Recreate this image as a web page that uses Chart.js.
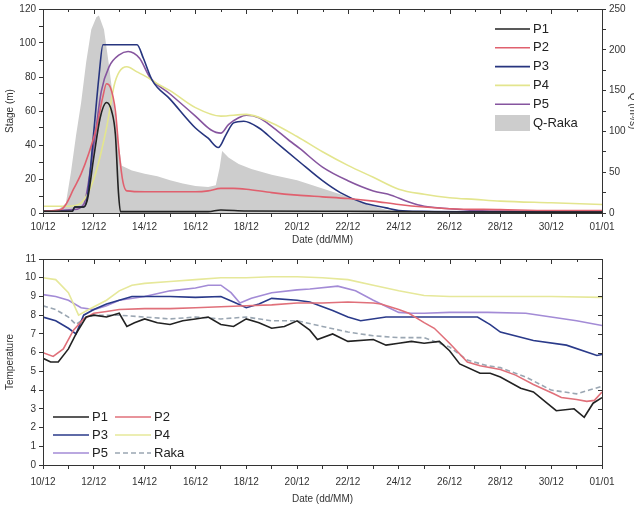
<!DOCTYPE html>
<html>
<head>
<meta charset="utf-8">
<script src="https://cdn.jsdelivr.net/npm/chart.js@4.4.0/dist/chart.umd.min.js"></script>
<style>
html, body { margin: 0; padding: 0; background: #fff; overflow: hidden; width: 634px; height: 507px; }
#stageBox { position: absolute; left: 0; top: 0; width: 643px; height: 250px; }
#tempBox { position: absolute; left: 0; top: 250px; width: 634px; height: 257px; }
</style>
</head>
<body>
<div id="stageBox"><canvas id="stageChart"></canvas></div>
<div id="tempBox"><canvas id="tempChart"></canvas></div>
<script>
// x axis: days after 10/12, labels every 2 days
const dateLabels = ["10/12", "12/12", "14/12", "16/12", "18/12", "20/12", "22/12", "24/12", "26/12", "28/12", "30/12", "01/01"];

// --- top panel: stage (left axis) and discharge (right axis) ---
const p1Days = [0, 1.15, 1.25, 1.6, 1.75, 2.0, 2.25, 2.5, 2.7, 2.85, 2.97, 3.05, 6.5, 7, 8, 12, 16, 22];
const p1Stage = [1, 1, 3.5, 3.5, 8, 33, 56, 65, 60, 46, 12, 0.8, 0.8, 1.8, 1.2, 1, 0.6, 0.5];

const p2Days = [0, 0.7, 0.9, 1.2, 1.5, 1.8, 2.1, 2.35, 2.5, 2.65, 2.85, 3.0, 3.15, 3.3, 4, 5, 6, 6.5, 7, 7.5, 8, 9, 10, 11, 12, 13, 14, 15, 16, 18, 20, 22];
const p2Stage = [1, 2, 5, 14, 23, 35, 50, 68, 76, 74, 60, 35, 18, 13, 12.5, 12.5, 12.5, 13, 14.5, 14.5, 14, 12, 10.5, 9.5, 8.5, 7, 5, 3.5, 2.5, 2, 1.5, 1.5];

const p3Days = [0, 1.15, 1.25, 1.6, 1.75, 2.0, 2.2, 2.36, 3.7, 3.95, 4.3, 5, 6, 6.5, 6.9, 7.2, 7.5, 7.9, 8.5, 9.1, 10.1, 11, 11.7, 12.6, 13.5, 14, 15, 18, 22];
const p3Stage = [1, 1, 3.5, 3.5, 10, 48, 80, 99, 99, 91, 78, 67, 50, 44, 38.5, 46, 53, 54, 50, 42.5, 30, 19, 12, 6, 3, 1.5, 1, 0.7, 0.5];

const p4Days = [0, 1, 1.5, 2, 2.5, 2.8, 3.0, 3.3, 3.7, 4.2, 4.5, 5, 6, 7, 8, 9, 10, 11, 12, 13, 14, 15, 16, 17, 18, 20, 22];
const p4Stage = [4, 4, 6, 20, 50, 75, 83, 86, 83, 79, 76, 72, 62, 57, 58, 53, 45, 36, 28, 21, 14, 11, 9, 8, 7, 6, 5];

const p5Days = [0, 1.2, 1.6, 2.0, 2.3, 2.6, 3.0, 3.35, 3.8, 4.2, 5, 6, 6.6, 7.0, 7.3, 7.7, 8.0, 8.5, 9, 9.7, 10.1, 11, 12, 13, 13.7, 14.4, 15, 16, 17, 19, 22];
const p5Stage = [1, 2, 5, 40, 72, 86, 93, 95, 91, 80, 70, 57, 49, 47, 52, 56, 57.5, 56, 51, 42.5, 38, 27, 19, 13, 10.5, 6.5, 4, 2.5, 1.5, 1, 0.5];

const qDays = [0, 0.6, 0.9, 1.1, 1.3, 1.5, 1.7, 1.9, 2.1, 2.2, 2.4, 2.6, 2.8, 2.95, 3.1, 3.5, 4, 4.5, 5, 5.5, 6, 6.5, 6.8, 6.95, 7.05, 7.3, 7.7, 8.2, 9, 10, 11, 12, 12.8, 13.5, 14, 16, 22];
const qRaka = [3, 4, 12, 50, 95, 135, 185, 225, 240, 242, 225, 180, 130, 90, 58, 52, 48, 45, 40, 36, 33, 32, 34, 55, 76, 68, 60, 54, 47, 40, 30, 20, 10, 4, 2, 1, 0.5];

// --- bottom panel: temperature ---
const t1Days = [0, 0.3, 0.6, 1.0, 1.3, 1.7, 2.0, 2.5, 3.0, 3.3, 3.6, 4.0, 4.5, 5.0, 5.5, 6.0, 6.5, 7.0, 7.5, 8.0, 8.5, 9.0, 9.5, 10.0, 10.5, 10.8, 11.4, 12, 13, 13.5, 14, 14.5, 15, 15.6, 16, 16.4, 17.2, 17.6, 18, 18.8, 19.3, 19.8, 20.2, 20.9, 21.3, 21.65, 22];
const t1Temp = [5.7, 5.5, 5.5, 6.2, 7.0, 7.9, 8.0, 7.9, 8.1, 7.4, 7.6, 7.8, 7.6, 7.5, 7.7, 7.8, 7.9, 7.5, 7.4, 7.8, 7.6, 7.3, 7.4, 7.7, 7.2, 6.7, 7.0, 6.6, 6.7, 6.4, 6.5, 6.6, 6.5, 6.6, 6.1, 5.4, 4.9, 4.9, 4.7, 4.1, 3.9, 3.35, 2.9, 3.0, 2.55, 3.3, 3.6];

const t2Days = [0, 0.4, 0.8, 1.2, 1.6, 2.0, 2.5, 3, 4, 5, 6, 7, 8, 9, 10, 11, 12, 13, 13.3, 14, 14.4, 15, 15.4, 16, 16.7, 17.2, 18, 18.6, 19.3, 20.1, 20.4, 21, 21.4, 21.7, 22];
const t2Temp = [6.0, 5.8, 6.2, 7.2, 7.8, 8.1, 8.2, 8.3, 8.35, 8.35, 8.4, 8.45, 8.5, 8.55, 8.65, 8.65, 8.7, 8.65, 8.6, 8.3, 8.1, 7.6, 7.3, 6.5, 5.5, 5.3, 5.1, 4.8, 4.3, 3.8, 3.6, 3.5, 3.4, 3.45, 3.9];

const t3Days = [0, 0.5, 1.0, 1.3, 1.6, 2.0, 2.5, 3.0, 3.5, 4, 5, 6, 7, 7.5, 8.0, 8.5, 9, 10, 10.5, 11.4, 12, 12.5, 13.5, 15.4, 17.1, 17.6, 18, 19.3, 20.6, 21.8, 22];
const t3Temp = [7.9, 7.7, 7.3, 7.0, 8.0, 8.3, 8.6, 8.8, 9.0, 9.0, 9.0, 8.95, 9.0, 8.7, 8.4, 8.6, 8.9, 8.8, 8.7, 8.25, 7.9, 7.7, 7.9, 7.9, 7.9, 7.5, 7.1, 6.65, 6.4, 5.85, 5.9];

const t4Days = [0, 0.5, 1.0, 1.4, 1.8, 2.5, 3, 3.5, 4, 5, 6, 7, 8, 9, 10, 11, 12, 13, 14, 15, 16, 18, 20, 22];
const t4Temp = [10, 9.9, 9.2, 8.0, 8.3, 8.8, 9.3, 9.6, 9.7, 9.8, 9.9, 10.0, 10.0, 10.05, 10.05, 10.0, 9.9, 9.6, 9.3, 9.05, 9.0, 9.0, 9.0, 8.95];

const t5Days = [0, 0.5, 1.0, 1.5, 2.0, 2.5, 3, 4, 5, 6, 6.5, 7.0, 7.4, 7.75, 8.2, 9, 10, 10.5, 11.6, 12.3, 13, 14, 14.5, 15, 16, 17.5, 19, 20, 21, 22];
const t5Temp = [9.1, 9.0, 8.8, 8.4, 8.3, 8.5, 8.8, 9.0, 9.3, 9.45, 9.6, 9.6, 9.2, 8.65, 8.9, 9.2, 9.35, 9.4, 9.55, 9.3, 8.8, 8.15, 8.1, 8.1, 8.15, 8.15, 8.1, 7.9, 7.7, 7.45];

const rakaDays = [0, 0.5, 1.0, 1.3, 1.7, 2.0, 3, 4, 5, 6, 7, 8, 9, 10, 11, 12, 13, 14, 15, 16, 16.7, 17.5, 18, 19, 20, 20.5, 21, 21.5, 22];
const rakaTemp = [8.5, 8.3, 7.9, 7.5, 7.9, 8.0, 8.0, 7.9, 7.8, 7.9, 7.8, 7.9, 7.7, 7.7, 7.4, 7.1, 6.9, 6.8, 6.8, 6.3, 5.6, 5.3, 5.2, 4.7, 4.0, 3.9, 3.8, 4.0, 4.2];

const FONT = '"Liberation Sans", Arial, sans-serif';
const INK = "#333";

function pts(days, vals) {
	return days.map((d, i) => ({ x: d, y: vals[i] }));
}

function line(label, days, vals, color, extra) {
	return Object.assign({
		label: label,
		data: pts(days, vals),
		borderColor: color,
		backgroundColor: color,
		borderWidth: 1.6,
		pointRadius: 0,
		fill: false,
	}, extra || {});
}

// box round the plot with mirrored ticks on top (and right)
const framePlugin = {
	id: "frame",
	afterDatasetsDraw(chart, args, opts) {
		const { ctx, chartArea: a, scales } = chart;
		ctx.save();
		ctx.strokeStyle = INK;
		ctx.lineWidth = 1;
		ctx.strokeRect(a.left + 0.5, a.top + 0.5, a.right - a.left, a.bottom - a.top);
		scales.x.ticks.forEach((t) => {
			const px = Math.round(scales.x.getPixelForValue(t.value)) + 0.5;
			const len = t.value % 2 === 0 ? 5 : 3;
			ctx.beginPath();
			ctx.moveTo(px, a.top);
			ctx.lineTo(px, a.top + len);
			ctx.stroke();
		});
		if (opts.mirrorY) {
			scales.y.ticks.forEach((t) => {
				const py = Math.round(scales.y.getPixelForValue(t.value)) + 0.5;
				ctx.beginPath();
				ctx.moveTo(a.right, py);
				ctx.lineTo(a.right - 4, py);
				ctx.stroke();
			});
		}
		ctx.restore();
	},
};

// legend drawn inside the plot area
const cornerLegend = {
	id: "cornerLegend",
	afterDraw(chart, args, opts) {
		const { ctx } = chart;
		ctx.save();
		ctx.font = "13px " + FONT;
		ctx.textBaseline = "middle";
		chart.data.datasets.forEach((ds, i) => {
			const col = i % opts.cols;
			const row = Math.floor(i / opts.cols);
			const x0 = opts.x + col * opts.colWidth;
			const y0 = opts.y + row * opts.rowHeight;
			if (ds.fill) {
				ctx.fillStyle = ds.backgroundColor;
				ctx.fillRect(x0, y0 - 8, opts.lineLength, 16);
			} else {
				ctx.strokeStyle = ds.borderColor;
				ctx.lineWidth = 1.6;
				ctx.setLineDash(ds.borderDash || []);
				ctx.beginPath();
				ctx.moveTo(x0, y0);
				ctx.lineTo(x0 + opts.lineLength, y0);
				ctx.stroke();
				ctx.setLineDash([]);
			}
			ctx.fillStyle = "#222";
			ctx.fillText(ds.label, x0 + opts.lineLength + 3, y0);
		});
		ctx.restore();
	},
};

function dateAxis(height, labelPad, titlePad) {
	return {
		type: "linear",
		min: 0,
		max: 22,
		ticks: {
			stepSize: 1,
			autoSkip: false,
			maxRotation: 0,
			padding: labelPad,
			color: INK,
			font: { family: FONT, size: 10 },
			callback: (v) => (v % 2 === 0 ? dateLabels[v / 2] : ""),
		},
		grid: { drawOnChartArea: false, tickLength: 4, color: INK },
		border: { color: INK },
		title: {
			display: true,
			text: "Date (dd/MM)",
			color: INK,
			font: { family: FONT, size: 10 },
			padding: { top: 0, bottom: titlePad },
		},
		afterFit: (s) => {
			s.height = height;
		},
	};
}

function valueAxis(pos, min, max, step, every, title, width) {
	return {
		type: "linear",
		position: pos,
		min: min,
		max: max,
		ticks: {
			stepSize: step,
			autoSkip: false,
			padding: 3,
			color: INK,
			font: { family: FONT, size: 10 },
			callback: (v) => (Math.round(v / step) % every === 0 ? v : ""),
		},
		grid: { drawOnChartArea: false, tickLength: 4, color: INK },
		border: { color: INK },
		title: {
			display: true,
			text: title,
			color: INK,
			font: { family: FONT, size: 10 },
			padding: { top: 4, bottom: 0 },
		},
		afterFit: (s) => {
			s.width = width;
		},
	};
}

Chart.defaults.animation = false;
Chart.defaults.events = [];

// Stage chart
new Chart(document.getElementById("stageChart"), {
	type: "line",
	data: {
		datasets: [
			line("P1", p1Days, p1Stage, "#222222", { cubicInterpolationMode: "monotone", yAxisID: "y" }),
			line("P2", p2Days, p2Stage, "#e0606e", { cubicInterpolationMode: "monotone", yAxisID: "y" }),
			line("P3", p3Days, p3Stage, "#27357f", { cubicInterpolationMode: "monotone", yAxisID: "y" }),
			line("P4", p4Days, p4Stage, "#e3e58e", { cubicInterpolationMode: "monotone", yAxisID: "y" }),
			line("P5", p5Days, p5Stage, "#86559f", { cubicInterpolationMode: "monotone", yAxisID: "y" }),
			{
				label: "Q-Raka",
				data: pts(qDays, qRaka),
				yAxisID: "y2",
				borderColor: "rgba(0,0,0,0)",
				borderWidth: 0,
				backgroundColor: "#cdcdcd",
				fill: "origin",
				pointRadius: 0,
				tension: 0,
			},
		],
	},
	options: {
		responsive: true,
		maintainAspectRatio: false,
		layout: { padding: { top: 7, left: 0, right: 0, bottom: 0 } },
		scales: {
			x: dateAxis(37, 4, 4),
			y: valueAxis("left", 0, 120, 10, 2, "Stage (m)", 43),
			y2: valueAxis("right", 0, 250, 25, 2, "Q (m³/s)", 41),
		},
		plugins: {
			legend: { display: false },
			tooltip: { enabled: false },
			frame: { mirrorY: false },
			cornerLegend: { x: 495, y: 29, cols: 1, colWidth: 0, rowHeight: 18.8, lineLength: 35 },
		},
	},
	plugins: [framePlugin, cornerLegend],
});

// Temperature chart
new Chart(document.getElementById("tempChart"), {
	type: "line",
	data: {
		datasets: [
			line("P1", t1Days, t1Temp, "#222222"),
			line("P2", t2Days, t2Temp, "#e0707a"),
			line("P3", t3Days, t3Temp, "#2a3a8a"),
			line("P4", t4Days, t4Temp, "#e6e89a"),
			line("P5", t5Days, t5Temp, "#a38bd6"),
			line("Raka", rakaDays, rakaTemp, "#9aa6b2", { borderDash: [5, 3] }),
		],
	},
	options: {
		responsive: true,
		maintainAspectRatio: false,
		layout: { padding: { top: 8, left: 0, right: 32, bottom: 0 } },
		scales: {
			x: dateAxis(42, 7, 2),
			y: valueAxis("left", 0, 11, 1, 1, "Temperature", 43),
		},
		plugins: {
			legend: { display: false },
			tooltip: { enabled: false },
			frame: { mirrorY: true },
			cornerLegend: { x: 53, y: 167, cols: 2, colWidth: 62, rowHeight: 18, lineLength: 36 },
		},
	},
	plugins: [framePlugin, cornerLegend],
});
</script>
</body>
</html>
